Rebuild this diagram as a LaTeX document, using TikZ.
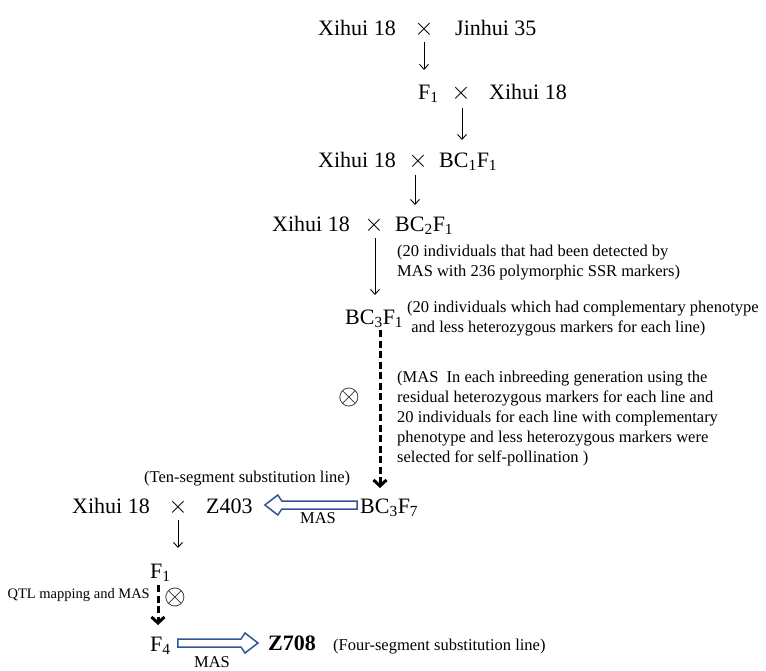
\documentclass[tikz,border=0pt]{standalone}
\usepackage{fontspec}
\setmainfont{Liberation Serif}
\usetikzlibrary{arrows.meta,calc}
\definecolor{arrblue}{RGB}{47,85,151}
\begin{document}
\begin{tikzpicture}[x=1pt,y=-1pt,
  big/.style={inner sep=0pt,anchor=base west,font=\fontsize{22}{26}\selectfont},
  small/.style={inner sep=0pt,anchor=base west,align=left,font=\fontsize{16.5}{20}\selectfont},
  crossmark/.style={inner sep=0pt,anchor=base,font=\fontsize{27}{30}\selectfont},
  selfmark/.style={inner sep=0pt,font=\fontsize{20}{22}\selectfont,scale=1.35},
  thinarr/.style={line width=0.9pt,-{Straight Barb[length=5pt,width=9pt]}},
  dasharr/.style={line width=3pt,dash pattern=on 7pt off 3.5pt,-{Straight Barb[length=6pt,width=13pt,line width=3pt]}},
  blockarr/.style={draw=arrblue,line width=1.5pt,fill=white,line join=miter}]
\useasboundingbox (0,0) rectangle (766,670);
% row 1
\node[big] (p1a) at (318,35) {Xihui 18};
\node[crossmark] (x1) at (424,35) {$\times$};
\node[big] (p1b) at (455,35) {Jinhui 35};
% row 2
\node[big] (f1a) at (418,99) {F\textsubscript{1}};
\node[crossmark] (x2) at (461,99) {$\times$};
\node[big] (p2b) at (489,99) {Xihui 18};
% row 3
\node[big] (p3a) at (318,167) {Xihui 18};
\node[crossmark] (x3) at (418,167) {$\times$};
\node[big] (bc1) at (439,167) {BC\textsubscript{1}F\textsubscript{1}};
% row 4
\node[big] (p4a) at (272,231) {Xihui 18};
\node[crossmark] (x4) at (374,231) {$\times$};
\node[big] (bc2) at (395,231) {BC\textsubscript{2}F\textsubscript{1}};
\node[small] (n1) at (397,276) {(20 individuals that had been detected by\\MAS with 236 polymorphic SSR markers)};
% row 5
\node[big] (bc3) at (345,324) {BC\textsubscript{3}F\textsubscript{1}};
\node[small] (n2) at (407,332) {(20 individuals which had complementary phenotype\\\ and less heterozygous markers for each line)};
\node[selfmark] (s1) at (349,397) {$\otimes$};
\node[small] (n3) at (397,462) {(MAS\ \ In each inbreeding generation using the\\residual heterozygous markers for each line and\\20 individuals for each line with complementary\\phenotype and less heterozygous markers were\\selected for self-pollination )};
% row 6
\node[small] (n4) at (144,482) {(Ten-segment substitution line)};
\node[big] (p6a) at (72,513) {Xihui 18};
\node[crossmark] (x6) at (178,513) {$\times$};
\node[big] (z403) at (206,513) {Z403};
\node[big] (bc37) at (360,513) {BC\textsubscript{3}F\textsubscript{7}};
\node[small,anchor=base] (mas1) at (318,523) {MAS};
% bottom
\node[big] (f1b) at (150,578) {F\textsubscript{1}};
\node[small,anchor=base east,font=\fontsize{14.5}{18}\selectfont] (qtl) at (150,598) {QTL mapping and MAS};
\node[selfmark] (s2) at (175,597) {$\otimes$};
\node[big] (f4) at (150,651) {F\textsubscript{4}};
\node[big,font=\fontsize{22}{26}\selectfont\bfseries] (z708) at (268,650) {Z708};
\node[small] (n5) at (333,650) {(Four-segment substitution line)};
\node[small,anchor=base] (mas2) at (212,667) {MAS};
% connectors
\coordinate (c1s) at (424,42);  \coordinate (c1e) at (424,70);
\coordinate (c2s) at (462,108); \coordinate (c2e) at (462,140);
\coordinate (c3s) at (415,175); \coordinate (c3e) at (415,205);
\coordinate (c4s) at (375,238); \coordinate (c4e) at (375,295);
\coordinate (c5s) at (380,330); \coordinate (c5e) at (380,488);
\coordinate (c6s) at (178,520); \coordinate (c6e) at (178,548);
\coordinate (c7s) at (158,585); \coordinate (c7e) at (158,625);
\draw[thinarr] (c1s) -- (c1e);
\draw[thinarr] (c2s) -- (c2e);
\draw[thinarr] (c3s) -- (c3e);
\draw[thinarr] (c4s) -- (c4e);
\draw[dasharr] (c5s) -- (c5e);
\draw[thinarr] (c6s) -- (c6e);
\draw[dasharr] (c7s) -- (c7e);
% block arrow BC3F7 -> Z403
\coordinate (T1) at ($(bc37.base west)+(-3,-8)$);
\coordinate (P1) at ($(z403.base east)+(12,-8)$);
\draw[blockarr] (P1) -- ($(P1)+(13,-10)$) -- ($(P1)+(17,-4)$) -- ($(T1)+(0,-4)$) -- ($(T1)+(0,4)$) -- ($(P1)+(17,4)$) -- ($(P1)+(13,10)$) -- cycle;
% block arrow F4 -> Z708
\coordinate (T2) at ($(f4.base east)+(7,-8)$);
\coordinate (P2) at ($(z708.base west)+(-10,-7)$);
\draw[blockarr] (P2) -- ($(P2)+(-13,-10)$) -- ($(P2)+(-17,-4)$) -- ($(T2)+(0,-4)$) -- ($(T2)+(0,4)$) -- ($(P2)+(-17,4)$) -- ($(P2)+(-13,10)$) -- cycle;
\end{tikzpicture}
\end{document}
